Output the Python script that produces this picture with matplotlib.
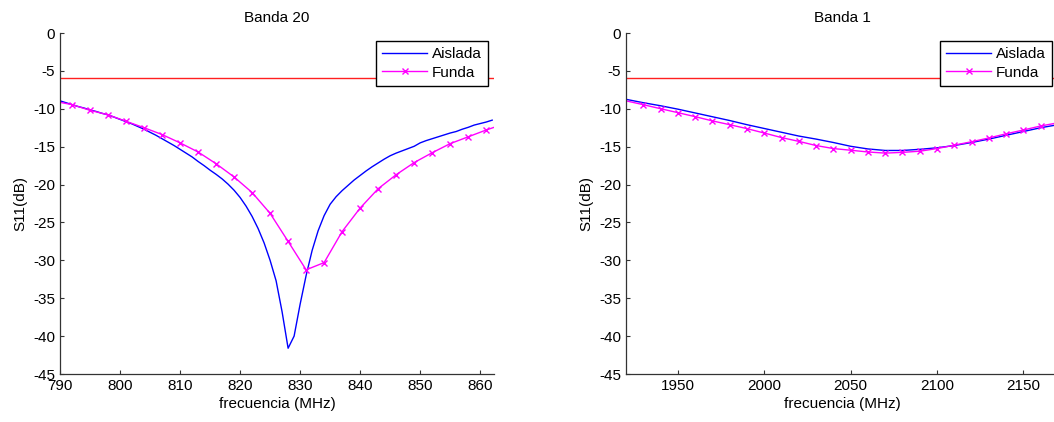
import numpy as np
import matplotlib
matplotlib.use('Agg')
import matplotlib.pyplot as plt

plt.rcParams['font.family'] = ['Liberation Sans', 'DejaVu Sans']
plt.rcParams['axes.unicode_minus'] = False

# Banda 20 - aislada (1 MHz steps)
f_b20 = np.arange(790, 863)
s11_b20_aislada = [-8.95, -9.2, -9.45, -9.7, -9.9, -10.15, -10.35, -10.6, -10.8, -11.1,
                   -11.4, -11.7, -12.0, -12.35, -12.7, -13.1, -13.5, -13.95, -14.4, -14.85,
                   -15.35, -15.85, -16.35, -16.95, -17.5, -18.1, -18.65, -19.25, -19.95, -20.75,
                   -21.7, -22.85, -24.2, -25.8, -27.7, -30.0, -32.7, -36.8, -41.6, -40.0,
                   -35.8, -32.0, -28.7, -26.1, -24.1, -22.6, -21.6, -20.8, -20.1, -19.4,
                   -18.8, -18.2, -17.65, -17.15, -16.65, -16.2, -15.85, -15.55, -15.25, -14.95,
                   -14.5, -14.2, -13.95, -13.7, -13.45, -13.2, -13.0, -12.7, -12.45, -12.15,
                   -11.95, -11.75, -11.5]
# Banda 20 - funda (3 MHz steps)
f_b20_funda = np.arange(789, 865, 3)
s11_b20_funda = [-9.0, -9.45, -10.2, -10.8, -11.65, -12.5, -13.4, -14.5, -15.7, -17.25,
                 -19.0, -21.05, -23.8, -27.5, -31.25, -30.3, -26.2, -23.1, -20.55, -18.7,
                 -17.1, -15.8, -14.6, -13.7, -12.8, -12.0]

# Banda 1 (10 MHz steps)
f_b1 = np.arange(1920, 2171, 10)
s11_b1_aislada = [-8.75, -9.2, -9.6, -10.05, -10.55, -11.05, -11.55, -12.1, -12.6, -13.1,
                  -13.6, -14.0, -14.45, -14.95, -15.3, -15.5, -15.5, -15.35, -15.15, -14.85,
                  -14.45, -14.0, -13.5, -13.0, -12.5, -12.1]
s11_b1_funda = [-8.95, -9.46, -9.99, -10.51, -11.04, -11.6, -12.1, -12.62, -13.2, -13.8,
                -14.3, -14.85, -15.25, -15.47, -15.7, -15.85, -15.75, -15.6, -15.25, -14.8,
                -14.35, -13.85, -13.3, -12.8, -12.27, -11.85]

umbral = -6  # criterio -6 dB

fig = plt.figure(figsize=(10.54, 4.22), dpi=100)
ax1 = fig.add_axes([60/1054, 1-374/422, 434/1054, 341/422])
ax2 = fig.add_axes([626/1054, 1-374/422, 432/1054, 341/422])

def estilo(ax, titulo, xlim, xticks):
    ax.set_xlim(xlim)
    ax.set_ylim(-45, 0)
    ax.set_yticks(np.arange(-45, 1, 5))
    ax.set_xticks(xticks)
    ax.spines['top'].set_visible(False)
    ax.spines['right'].set_visible(False)
    for s in ['left', 'bottom']:
        ax.spines[s].set_color('#333333')
        ax.spines[s].set_linewidth(0.9)
    ax.tick_params(direction='in', length=3, width=0.8, colors='#333333',
                   labelcolor='black', labelsize=11)
    ax.set_title(titulo, fontsize=11, pad=8)
    ax.set_xlabel('frecuencia (MHz)', fontsize=11, labelpad=3)
    ax.set_ylabel('S11(dB)', fontsize=11, labelpad=4)
    leg = ax.legend(loc='upper right', bbox_to_anchor=(1-6/434, 1-8/341), borderaxespad=0,
                    fontsize=11, fancybox=False, framealpha=1, edgecolor='black',
                    handlelength=2.9, handletextpad=0.35, labelspacing=0.3,
                    borderpad=0.4)
    leg.get_frame().set_linewidth(1.0)

ax1.axhline(umbral, color='#ff2020', lw=1.0)
ax1.plot(f_b20, s11_b20_aislada, color='#0000ff', lw=1.0, label='Aislada')
ax1.plot(f_b20_funda, s11_b20_funda, color='#ff00ff', lw=1.0, marker='x', ms=4.5, mew=1.0,
         label='Funda')
estilo(ax1, 'Banda 20', (790, 862.3), np.arange(790, 861, 10))

ax2.axhline(umbral, color='#ff2020', lw=1.0)
ax2.plot(f_b1, s11_b1_aislada, color='#0000ff', lw=1.0, label='Aislada')
ax2.plot(f_b1, s11_b1_funda, color='#ff00ff', lw=1.0, marker='x', ms=4.5, mew=1.0,
         markevery=slice(1, None), label='Funda')
estilo(ax2, 'Banda 1', (1920, 2170), np.arange(1950, 2151, 50))

fig.savefig('out.png', dpi=100)
